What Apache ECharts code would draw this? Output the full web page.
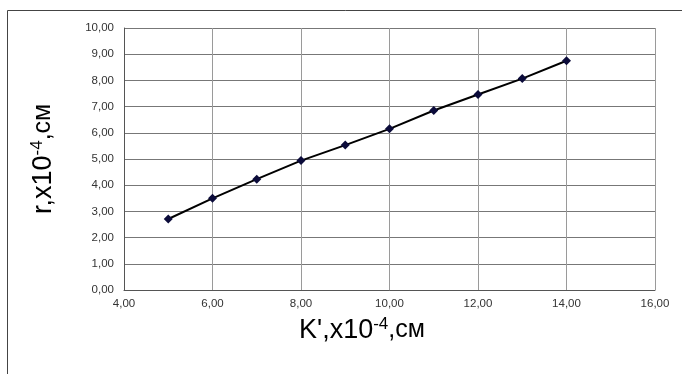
<!DOCTYPE html>
<html>
<head>
<meta charset="utf-8">
<script src="https://cdn.jsdelivr.net/npm/echarts@6/dist/echarts.min.js"></script>
<style>
  html, body { margin: 0; padding: 0; background: #fff; }
  #chart { width: 682px; height: 374px; }
</style>
</head>
<body>
<div id="chart"></div>
<script>
// K' values (x10^-4 cm) and measured r (x10^-4 cm)
const kValues = [5, 6, 7, 8, 9, 10, 11, 12, 13, 14];
const rValues = [2.71, 3.50, 4.23, 4.94, 5.53, 6.15, 6.85, 7.46, 8.07, 8.75];

const xTitle = { base: "K',x10", sup: '-4', tail: ',см' };
const yTitle = { base: 'r,x10', sup: '-4', tail: ',см' };

const FONT = '"Liberation Sans", Arial, sans-serif';
const fmt = v => v.toFixed(2).replace('.', ',');

const titleRich = {
  b: { fontSize: 27, fontFamily: FONT, color: '#111' },
  s: { fontSize: 17, fontFamily: FONT, color: '#111', verticalAlign: 'top', padding: [0, 0, 12, 0] },
  t: { fontSize: 25, fontFamily: FONT, color: '#111' }
};
const richText = o => '{b|' + o.base + '}{s|' + o.sup + '}{t|' + o.tail + '}';

const chart = echarts.init(document.getElementById('chart'), null, { renderer: 'canvas' });
chart.setOption({
  backgroundColor: '#fff',
  animation: false,
  grid: { left: 124, right: 27, top: 28, bottom: 84 },
  xAxis: {
    type: 'value', min: 4, max: 16, interval: 2,
    axisLine: { show: true, lineStyle: { color: '#555', width: 1 } },
    axisTick: { show: false },
    axisLabel: { formatter: fmt, fontFamily: FONT, fontSize: 11.5, color: '#333', margin: 8 },
    splitLine: { show: true, lineStyle: { color: '#9a9a9a', width: 1 } }
  },
  yAxis: {
    type: 'value', min: 0, max: 10, interval: 1,
    axisLine: { show: true, lineStyle: { color: '#555', width: 1 } },
    axisTick: { show: false },
    axisLabel: { formatter: fmt, fontFamily: FONT, fontSize: 11.5, color: '#333', margin: 10 },
    splitLine: { show: true, lineStyle: { color: '#777', width: 1 } }
  },
  graphic: [
    {
      type: 'rect', silent: true, z: -1,
      shape: { x: 7.5, y: 10.5, width: 700, height: 400 },
      style: { fill: 'none', stroke: '#444', lineWidth: 1 }
    },
    {
      type: 'text', left: 299, top: 316,
      style: { text: richText(xTitle), rich: titleRich }
    },
    {
      type: 'text', x: 29, y: 214, rotation: Math.PI / 2,
      style: { text: richText(yTitle), rich: titleRich }
    }
  ],
  series: [{
    type: 'line',
    data: kValues.map((k, i) => [k, rValues[i]]),
    symbol: 'diamond',
    symbolSize: 9,
    itemStyle: { color: '#0b0b3a' },
    lineStyle: { color: '#000', width: 2 }
  }]
});
</script>
</body>
</html>
